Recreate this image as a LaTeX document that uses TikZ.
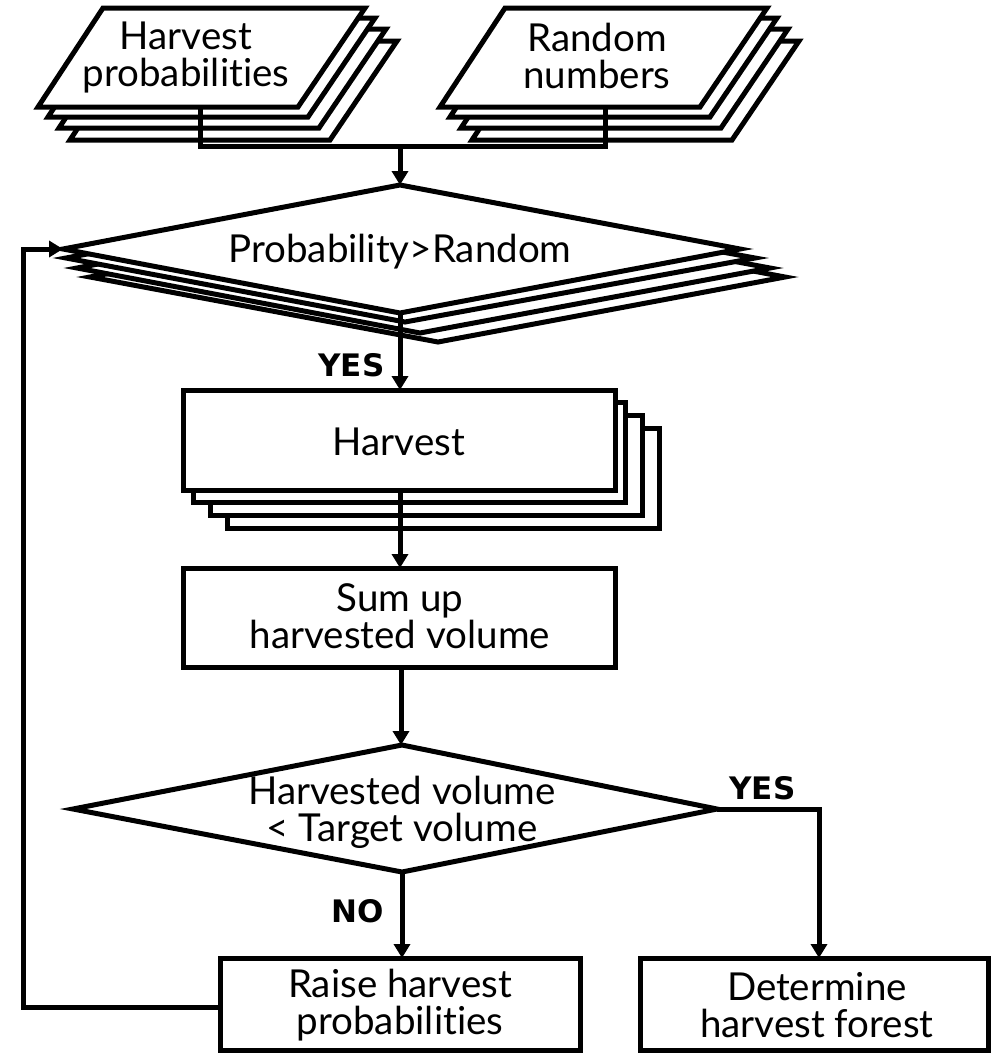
\documentclass[tikz,border=0pt]{standalone}
\usepackage{fontspec}
\setmainfont{Lato}[Ligatures={NoCommon}]
\newfontfamily\lblfont{DejaVu Sans}
\usetikzlibrary{arrows.meta}
\begin{document}
\begin{tikzpicture}[x=1pt,y=-1pt,line width=5pt,line join=miter,
  lay/.style={draw,fill=white},
  conn/.style={line width=5pt},
  arr/.style={conn,-{Triangle[length=14pt,width=16pt]}},
  txt/.style={font=\fontsize{38.5}{37}\selectfont,align=center,inner sep=0pt},
  lbl/.style={font=\lblfont\bfseries\fontsize{31}{32}\selectfont,inner sep=0pt}]
\useasboundingbox (0,0) rectangle (992,1055);

% ---- input stack: Harvest probabilities
\foreach \dx/\dy in {32/33,21/21,10/10}
  \draw[lay,shift={(\dx,\dy)}] (103,8) -- (365,8) -- (298,107) -- (38,107) -- cycle;
\draw[lay] (103,8) -- (365,8) -- (298,107) -- (38,107) -- cycle;
\node[txt] (hp) at (186,58) {Harvest\\probabilities};
\coordinate (hp-b) at (200,107);

% ---- input stack: Random numbers
\foreach \dx/\dy in {32/33,21/21,10/10}
  \draw[lay,shift={(\dx+402,\dy)}] (103,8) -- (365,8) -- (298,107) -- (38,107) -- cycle;
\draw[lay,shift={(402,0)}] (103,8) -- (365,8) -- (298,107) -- (38,107) -- cycle;
\node[txt] (rn) at (597,56) {Random\\numbers};
\coordinate (rn-b) at (605,107);

% ---- decision stack: Probability > Random
\draw[lay] (438,212) -- (785,277) -- (438,342) -- (90,277) -- cycle;
\draw[lay] (420,203) -- (770,268) -- (420,333) -- (77,268) -- cycle;
\draw[lay] (405,194) -- (755,258) -- (405,322) -- (66,258) -- cycle;
\draw[lay] (400,185) -- (740,249) -- (400,313) -- (63,249) -- cycle;
\node[txt] (d1) at (400,252) {Probability>Random};
\coordinate (d1-t) at (400,185);
\coordinate (d1-b) at (400,313);
\coordinate (d1-l) at (63,249);

% ---- process stack: Harvest
\draw[lay] (227,428) rectangle (659,528);
\draw[lay] (210,415) rectangle (642,515);
\draw[lay] (193,402) rectangle (625,502);
\draw[lay] (183,390) rectangle (615,490);
\node[txt] (hv) at (399,442) {Harvest};
\coordinate (hv-t) at (400,390);
\coordinate (hv-b) at (400,490);

% ---- Sum up
\draw[lay] (183,568) rectangle (615,667);
\node[txt] (su) at (400,616) {Sum up\\harvested volume};
\coordinate (su-t) at (400,568);
\coordinate (su-b) at (401,667);

% ---- decision: volume
\draw[lay] (402,745) -- (717,809) -- (402,872) -- (73,809) -- cycle;
\node[txt] (d2) at (402,812) {Harvested volume\\< Target volume};
\coordinate (d2-t) at (401,745);
\coordinate (d2-b) at (402,872);
\coordinate (d2-r) at (717,809);

% ---- outputs
\draw[lay] (220,958) rectangle (580,1050);
\node[txt] (ra) at (400,1005) {Raise harvest\\probabilities};
\coordinate (ra-t) at (402,958);
\coordinate (ra-w) at (220,1007);
\draw[lay] (640,958) rectangle (988,1050);
\node[txt] (de) at (817,1005) {Determine\\harvest forest};
\coordinate (de-t) at (819,958);

% ---- connectors
\coordinate (busL) at (200,146);
\coordinate (busR) at (605,146);
\coordinate (bus) at (400,146);
\draw[conn] (hp-b) -- (busL) -- (busR) -- (rn-b);
\draw[arr] (bus) -- (d1-t);
\draw[arr] (d1-b) -- (hv-t);
\draw[arr] (hv-b) -- (su-t);
\draw[arr] (su-b) -- (d2-t);
\draw[arr] (d2-b) -- (ra-t);
\draw[arr] (d2-r) -| (de-t);
\coordinate (loop) at (23,1007);
\draw[arr] (ra-w) -- (loop) |- (d1-l);

% ---- labels
\node[lbl,anchor=base east] (yes1) at (387,376) {YES};
\node[lbl,anchor=base west] (yes2) at (727,799) {YES};
\node[lbl,anchor=base east] (no) at (386,922) {NO};
\end{tikzpicture}
\end{document}
